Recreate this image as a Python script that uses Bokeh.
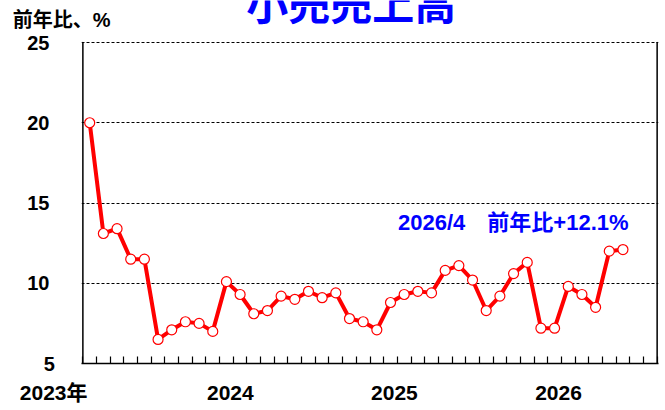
from bokeh.plotting import figure
from bokeh.models import Range1d, FixedTicker, Label, BoxAnnotation, ColumnDataSource
from bokeh.embed import file_html
from bokeh.resources import INLINE

# ---- data ----
values = [20.0, 13.1, 13.4, 11.5, 11.5, 6.5, 7.1, 7.6, 7.5, 7.0,
          10.1, 9.3, 8.1, 8.3, 9.2, 9.0, 9.5, 9.1, 9.4, 7.8,
          7.6, 7.1, 8.8, 9.3, 9.5, 9.4, 10.8, 11.1, 10.2, 8.3,
          9.2, 10.6, 11.3, 7.2, 7.2, 9.8, 9.3, 8.5, 12.0, 12.1]
n_slots = 42  # 2023/1 .. 2026/6 category slots on the axis
year_labels = ["2023年", "2024", "2025", "2026"]
year_index = [0, 12, 24, 36]
y_ticks = [5, 10, 15, 20, 25]
grid_ticks = [10, 15, 20, 25]
y_min, y_max = 5, 25
title_text = "小売売上高"
ylabel_text = "前年比、%"
note_text = "2026/4\u3000前年比+12.1%"

FONT = "Liberation Sans, Noto Sans CJK JP, sans-serif"
CJK = "Noto Sans CJK JP, sans-serif"
NB = "\u00a0"

x = list(range(len(values)))
src = ColumnDataSource(data=dict(x=x, y=values))

W, H = 665, 410
top_extra = 42 / 16.05          # data units above the top of the plot area
p = figure(width=W, height=H, output_backend="svg", toolbar_location=None,
           x_range=Range1d(-0.6, n_slots - 0.4),
           y_range=Range1d(y_min, y_max + top_extra),
           min_border_left=81, min_border_right=7, min_border_top=0,
           min_border_bottom=47)
p.outline_line_color = None
p.background_fill_color = "white"
p.border_fill_color = "white"

# ---- y axis (tick labels; the unit label sits above the top tick) ----
ylab_pos = y_max + 1.43
yl = {t: str(t) + NB * (10 if t < 10 else 11) for t in y_ticks}
yl[ylab_pos] = ylabel_text
p.yaxis.ticker = FixedTicker(ticks=y_ticks + [ylab_pos])
p.yaxis.major_label_overrides = yl
p.yaxis.major_tick_in = 0
p.yaxis.major_tick_out = 0
p.yaxis.minor_tick_in = 0
p.yaxis.minor_tick_out = 0
p.yaxis.axis_line_color = None
p.yaxis.major_label_text_font = FONT
p.yaxis.major_label_text_font_style = "bold"
p.yaxis.major_label_text_font_size = "20px"
p.yaxis.major_label_text_color = "black"
p.yaxis.major_label_standoff = -29

# ---- x axis: ticks on month boundaries, year labels ----
bounds_ticks = [k - 0.5 for k in range(n_slots + 1)]
xl = {t: "" for t in bounds_ticks}
for lab, idx in zip(year_labels, year_index):
    if idx == 0:
        xl[idx - 0.5] = lab + NB * 10
    else:
        xl[idx - 1.5] = lab + NB
p.xaxis.ticker = FixedTicker(ticks=bounds_ticks)
p.xaxis.major_label_overrides = xl
p.xaxis.major_tick_in = 7
p.xaxis.major_tick_out = 0
p.xaxis.minor_tick_in = 0
p.xaxis.minor_tick_out = 0
p.xaxis.major_tick_line_color = "black"
p.xaxis.major_tick_line_width = 1.2
p.xaxis.axis_line_color = "black"
p.xaxis.axis_line_width = 1.5
p.xaxis.major_label_text_font = FONT
p.xaxis.major_label_text_font_style = "bold"
p.xaxis.major_label_text_font_size = "21px"
p.xaxis.major_label_text_color = "black"
p.xaxis.major_label_standoff = 17

# ---- grid ----
p.xgrid.grid_line_color = None
p.ygrid.ticker = FixedTicker(ticks=grid_ticks)
p.ygrid.grid_line_color = "black"
p.ygrid.grid_line_dash = "3 2"
p.ygrid.grid_line_width = 1

# ---- left and right borders of the plot area ----
for xb in (-0.5, n_slots - 0.5):
    p.add_layout(BoxAnnotation(left=xb, right=xb + 0.001, bottom=y_min,
                               top=y_max, fill_color=None, fill_alpha=0,
                               line_color="black", line_width=1.5,
                               line_alpha=1))

# ---- series ----
p.line("x", "y", source=src, line_color="#FF0000", line_width=4)
p.scatter("x", "y", source=src, size=10, fill_color="white",
          line_color="#FF0000", line_width=1.2)

# ---- note ----
p.add_layout(Label(x=22.55, y=13.8, text=note_text, text_align="left",
                   text_baseline="middle", text_font=FONT,
                   text_font_style="bold", text_font_size="22px",
                   text_color="#0000FF"))

# ---- title (partly above the page, as in the original) ----
p.add_layout(Label(x=19.12, y=y_max + 2.55, text=title_text,
                   text_align="center", text_baseline="alphabetic",
                   text_font=CJK, text_font_style="bold",
                   text_font_size="42px", text_color="#0000FF"))

open("out.html", "w").write(file_html(p, INLINE))
